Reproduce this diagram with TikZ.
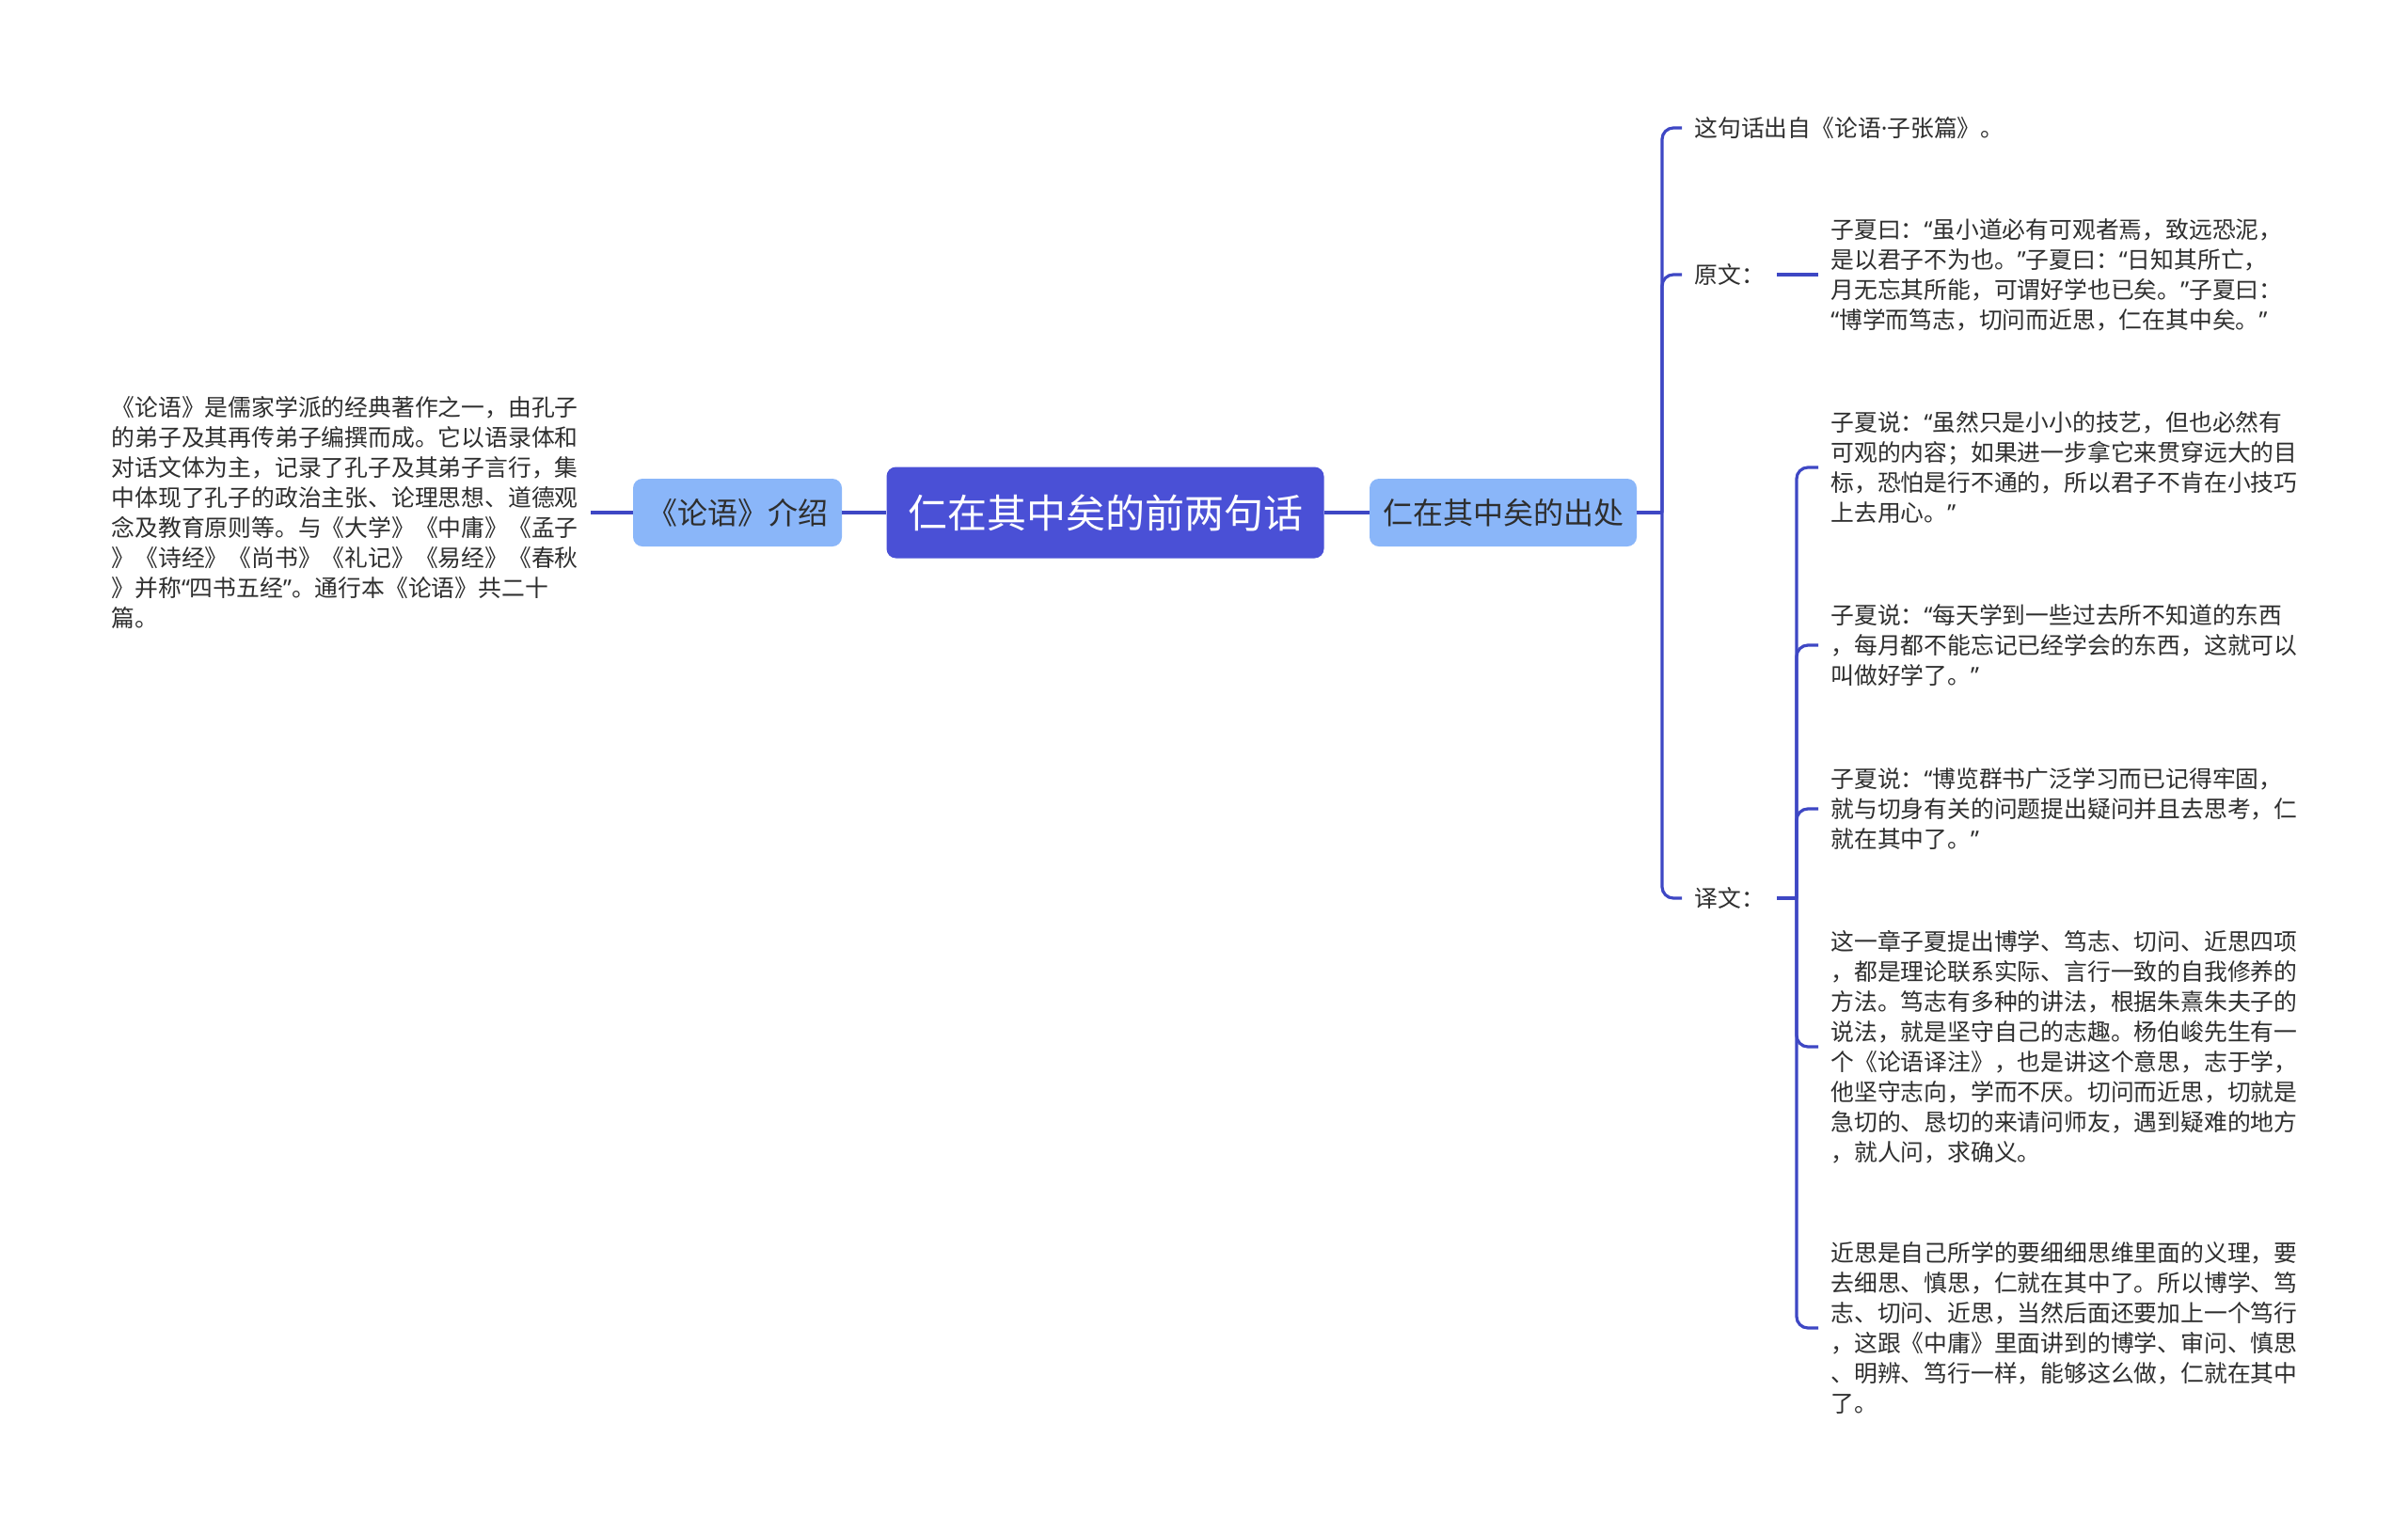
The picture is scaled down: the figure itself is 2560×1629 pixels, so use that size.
\documentclass[tikz,border=0pt]{standalone}
\usepackage{fontspec}
\setmainfont{Noto Sans CJK SC}
\newfontfamily\latinfont{Noto Sans}
\newcommand{\zhlq}{{\latinfont “}}
\newcommand{\zhrq}{{\latinfont ”}}
\newcommand{\zhdot}{{\latinfont ·}}
\definecolor{rootblue}{HTML}{4A50D6}
\definecolor{topicblue}{HTML}{8AB6F9}
\definecolor{linkblue}{HTML}{3E47C4}
\definecolor{textdark}{HTML}{2E2E2E}

\begin{document}
\begin{tikzpicture}[
    x=0.5pt, y=-0.5pt,
    % Styles
    rootbox/.style={rectangle, rounded corners=5pt, fill=rootblue, text=white, minimum width=232.5pt, minimum height=48.5pt, font=\fontsize{21}{25}\selectfont},
    topic/.style={rectangle, rounded corners=5pt, fill=topicblue, text=textdark, minimum height=36pt, font=\fontsize{16}{20}\selectfont},
    para/.style={align=left, inner xsep=6.5pt, inner ysep=0pt, text=textdark, font=\fontsize{12.4}{16}\selectfont},
    link/.style={draw=linkblue, line width=1.6pt},
    branch/.style={link, rounded corners=6pt},
]
\useasboundingbox (0,0) rectangle (2560,1629);

% === CENTRE ===
\node[rootbox] (root) at (1175,545) {仁在其中矣的前两句话};

% === LEFT ===
\node[topic, minimum width=111pt] (intro) at (784,545) {《论语》介绍};
\node[para, anchor=east] (introtext) at (628,545) {《论语》是儒家学派的经典著作之一，由孔子\\
的弟子及其再传弟子编撰而成。它以语录体和\\
对话文体为主，记录了孔子及其弟子言行，集\\
中体现了孔子的政治主张、论理思想、道德观\\
念及教育原则等。与《大学》《中庸》《孟子\\
》《诗经》《尚书》《礼记》《易经》《春秋\\
》并称\zhlq 四书五经\zhrq 。通行本《论语》共二十\\
篇。};

\draw[link] (introtext.east) -- (intro.west);
\draw[link] (intro) -- (root);

% === RIGHT ===
\node[topic, minimum width=142pt] (source) at (1598,545) {仁在其中矣的出处};
\coordinate (hubA) at (1767,545);

\node[para, anchor=west] (origin) at (1788,136) {这句话出自《论语\zhdot 子张篇》。};
\node[para, anchor=west] (yuanwen) at (1788,292) {原文：};
\node[para, anchor=west] (yiwen) at (1788,955) {译文：};

\node[para, anchor=west] (yuanwentext) at (1933,292) {子夏曰：\zhlq 虽小道必有可观者焉，致远恐泥，\\
是以君子不为也。\zhrq 子夏曰：\zhlq 日知其所亡，\\
月无忘其所能，可谓好学也已矣。\zhrq 子夏曰：\\
\zhlq 博学而笃志，切问而近思，仁在其中矣。\zhrq};

\coordinate (hubB) at (1910,955);
\node[para, anchor=west] (trans1) at (1933,497) {子夏说：\zhlq 虽然只是小小的技艺，但也必然有\\
可观的内容；如果进一步拿它来贯穿远大的目\\
标，恐怕是行不通的，所以君子不肯在小技巧\\
上去用心。\zhrq};
\node[para, anchor=west] (trans2) at (1933,686) {子夏说：\zhlq 每天学到一些过去所不知道的东西\\
，每月都不能忘记已经学会的东西，这就可以\\
叫做好学了。\zhrq};
\node[para, anchor=west] (trans3) at (1933,860) {子夏说：\zhlq 博览群书广泛学习而已记得牢固，\\
就与切身有关的问题提出疑问并且去思考，仁\\
就在其中了。\zhrq};
\node[para, anchor=west] (trans4) at (1933,1113) {这一章子夏提出博学、笃志、切问、近思四项\\
，都是理论联系实际、言行一致的自我修养的\\
方法。笃志有多种的讲法，根据朱熹朱夫子的\\
说法，就是坚守自己的志趣。杨伯峻先生有一\\
个《论语译注》，也是讲这个意思，志于学，\\
他坚守志向，学而不厌。切问而近思，切就是\\
急切的、恳切的来请问师友，遇到疑难的地方\\
，就人问，求确义。};
\node[para, anchor=west] (trans5) at (1933,1412) {近思是自己所学的要细细思维里面的义理，要\\
去细思、慎思，仁就在其中了。所以博学、笃\\
志、切问、近思，当然后面还要加上一个笃行\\
，这跟《中庸》里面讲到的博学、审问、慎思\\
、明辨、笃行一样，能够这么做，仁就在其中\\
了。};

% Right links
\draw[link] (root) -- (source);
\draw[link] (source.east) -- (hubA);
\foreach \n in {origin, yuanwen, yiwen}
  \draw[branch] (hubA) |- (\n.west);
\draw[link] (yuanwen) -- (yuanwentext);
\draw[link] (yiwen) -- (hubB);
\foreach \n in {trans1, trans2, trans3, trans4, trans5}
  \draw[branch] (hubB) |- (\n.west);

\end{tikzpicture}
\end{document}
